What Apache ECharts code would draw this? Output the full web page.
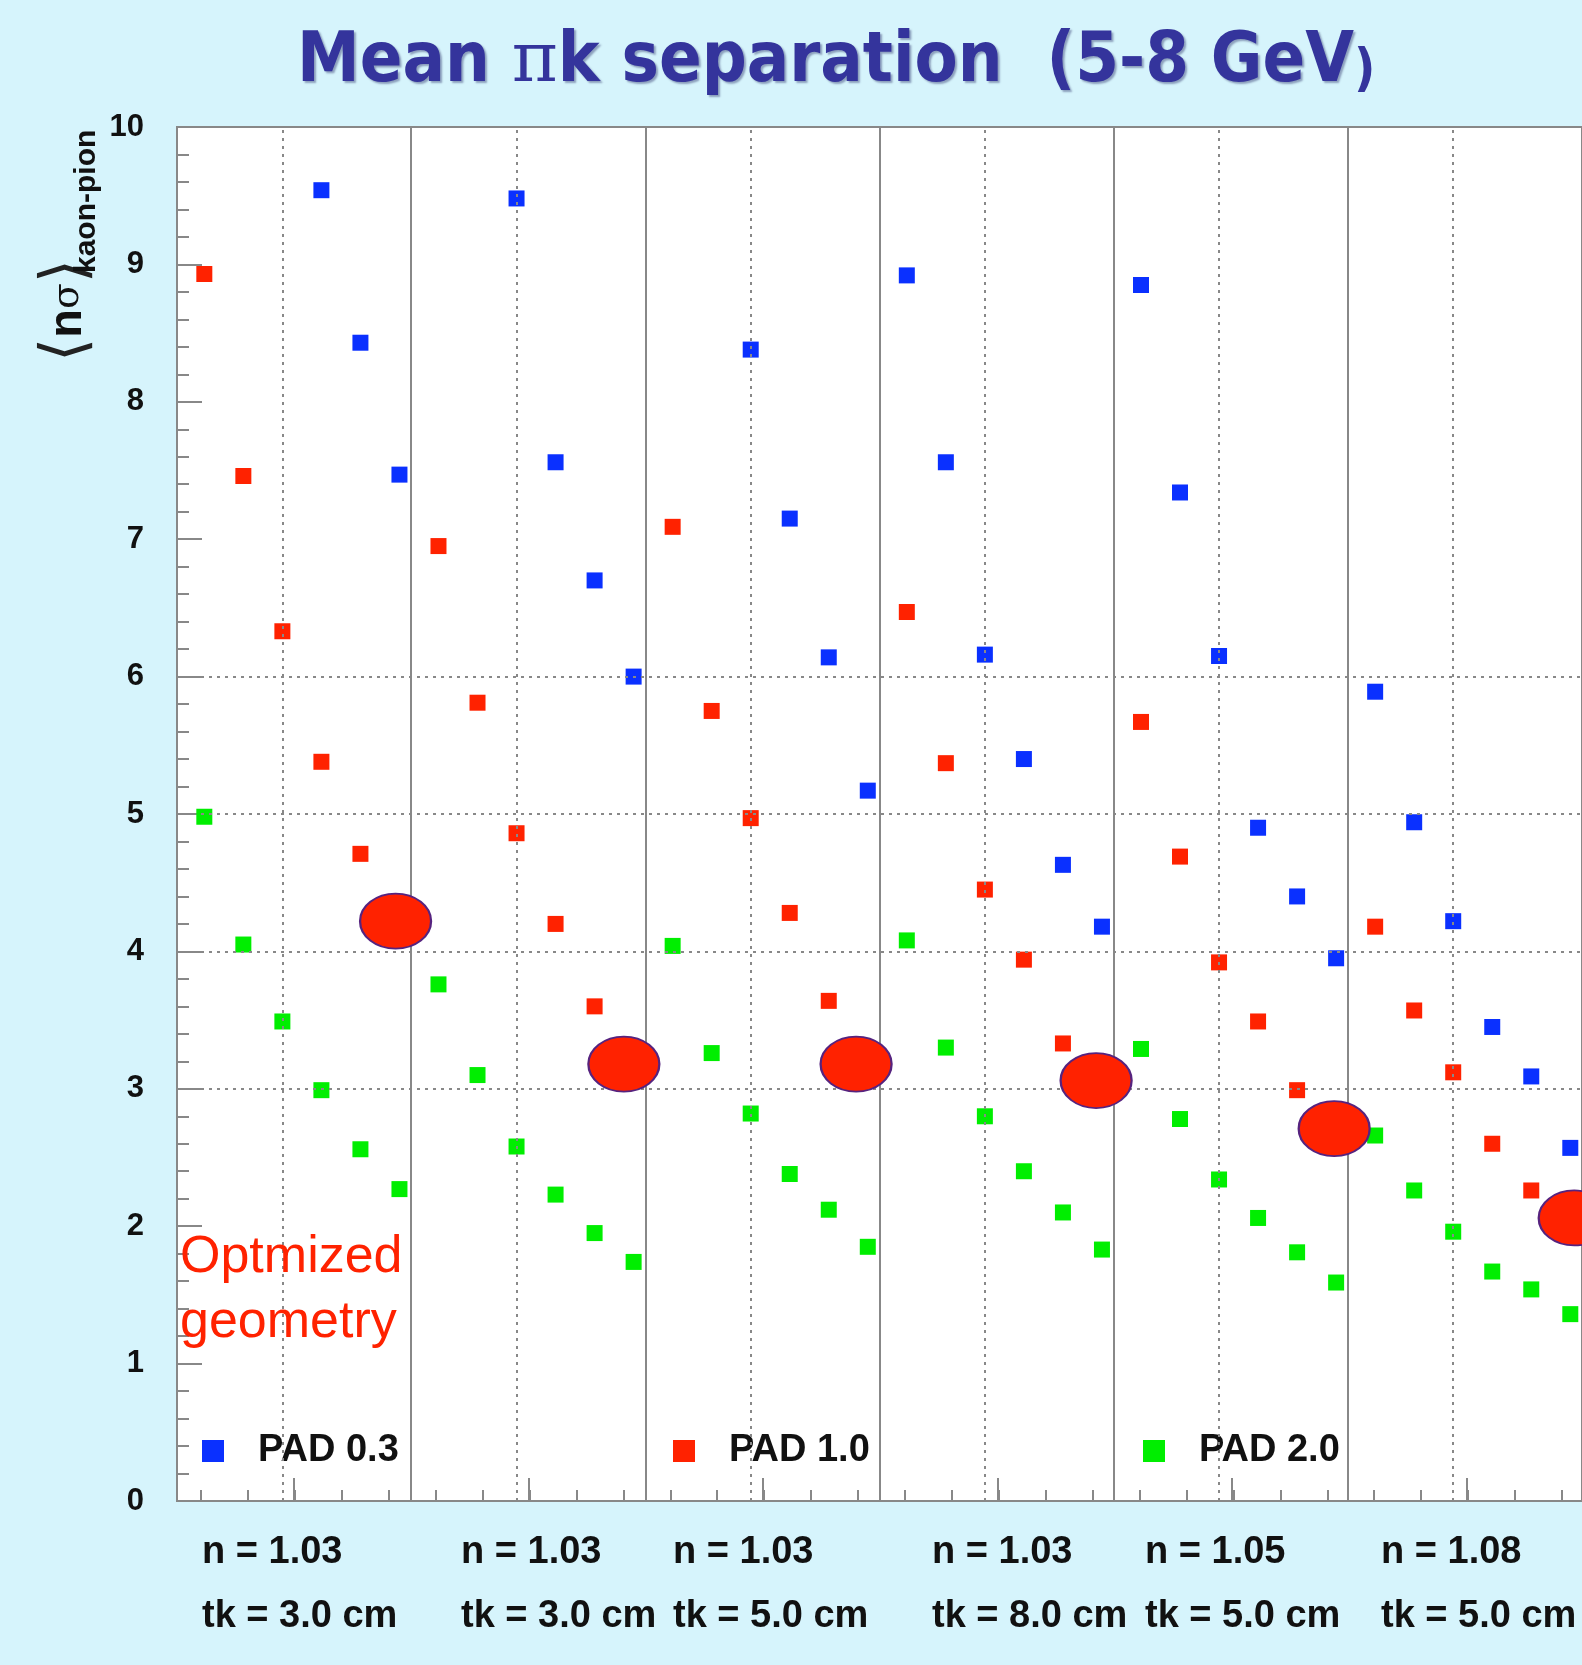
<!DOCTYPE html>
<html><head><meta charset="utf-8">
<script src="https://cdn.jsdelivr.net/npm/echarts@6/dist/echarts.min.js"></script>
<style>html,body{margin:0;padding:0;background:#d6f4fc}#c{width:1582px;height:1665px}</style>
</head><body><div id="c"></div>
<script>
// ---- data ----
const titleText = 'Mean πk separation  (5-8 GeV)';
const seriesNames = ['PAD 0.3', 'PAD 1.0', 'PAD 2.0'];
const groupN = ['n = 1.03', 'n = 1.03', 'n = 1.03', 'n = 1.03', 'n = 1.05', 'n = 1.08'];
const groupTk = ['tk = 3.0 cm', 'tk = 3.0 cm', 'tk = 5.0 cm', 'tk = 8.0 cm', 'tk = 5.0 cm', 'tk = 5.0 cm'];
const pointsPerGroup = 6;
const pad03 = [null, null, null, 9.54, 8.43, 7.47,
               null, null, 9.48, 7.56, 6.70, 6.00,
               null, null, 8.38, 7.15, 6.14, 5.17,
               8.92, 7.56, 6.16, 5.40, 4.63, 4.18,
               8.85, 7.34, 6.15, 4.90, 4.40, 3.95,
               5.89, 4.94, 4.22, 3.45, 3.09, 2.57];
const pad10 = [8.93, 7.46, 6.33, 5.38, 4.71, 4.22,
               6.95, 5.81, 4.86, 4.20, 3.60, 3.18,
               7.09, 5.75, 4.97, 4.28, 3.64, 3.18,
               6.47, 5.37, 4.45, 3.94, 3.33, 3.06,
               5.67, 4.69, 3.92, 3.49, 2.99, 2.71,
               4.18, 3.57, 3.12, 2.60, 2.26, 2.06];
const pad20 = [4.98, 4.05, 3.49, 2.99, 2.56, 2.27,
               3.76, 3.10, 2.58, 2.23, 1.95, 1.74,
               4.04, 3.26, 2.82, 2.38, 2.12, 1.85,
               4.08, 3.30, 2.80, 2.40, 2.10, 1.83,
               3.29, 2.78, 2.34, 2.06, 1.81, 1.59,
               2.66, 2.26, 1.96, 1.67, 1.54, 1.36];
const optX = [4.9, 10.75, 16.7, 22.85, 28.95, 35.1];
const optY = [4.22, 3.18, 3.18, 3.06, 2.71, 2.06];
const optLabel = 'Optmized\ngeometry';
const yAxisName = 'kaon-pion';

// ---- layout / style ----
const FONT = '"Liberation Sans", Arial, sans-serif';
const colors = ['#0a30ff', '#ff2200', '#00ee00'];
const gridBase = {top: 127, bottom: 164, right: -8};
const nGroups = groupN.length;
const hDotted = [3, 4, 5, 6];
const labelLeft = [202, 461, 673, 932, 1145, 1381];
const legendLeft = [202, 673, 1143];

const toPts = arr => arr.map((v, i) => v == null ? null : [i, v]).filter(p => p);

const markData = [];
hDotted.forEach(v => markData.push({yAxis: v, lineStyle: {type: [3, 5], color: '#888', width: 2}}));
for (let g = 0; g < nGroups; g++) {
  markData.push({xAxis: g * pointsPerGroup + 2, lineStyle: {type: [3, 5], color: '#888', width: 2}});
  if (g > 0) markData.push({xAxis: g * pointsPerGroup - 0.7, lineStyle: {type: 'solid', color: '#888', width: 2}});
}

const chart = echarts.init(document.getElementById('c'));
const graphics = [];
groupN.forEach((t, g) => {
  graphics.push({type: 'text', x: labelLeft[g], y: 1553, style: {text: t, font: 'bold 38px ' + FONT, fill: '#111', align: 'left', verticalAlign: 'middle'}});
  graphics.push({type: 'text', x: labelLeft[g], y: 1617, style: {text: groupTk[g], font: 'bold 38px ' + FONT, fill: '#111', align: 'left', verticalAlign: 'middle'}});
});
graphics.push({type: 'text', x: 180, y: 1225, z: 50, style: {text: optLabel, font: '52px ' + FONT, lineHeight: 65, fill: '#ff2200', align: 'left', verticalAlign: 'top'}});
graphics.push({type: 'text', x: 68, y: 362, rotation: Math.PI / 2, style: {
  text: '{br|⟨}{n|n}{s|σ}{br|⟩}', align: 'left', verticalAlign: 'middle',
  rich: {
    br: {fontSize: 62, fontFamily: '"DejaVu Sans"', fontWeight: 'normal', fill: '#222'},
    n: {fontSize: 47, fontFamily: FONT, fontWeight: 'bold', fill: '#111'},
    s: {fontSize: 38, fontFamily: '"DejaVu Serif"', fontWeight: 'normal', fill: '#111'}
  }}});
graphics.push({type: 'text', x: 87, y: 273, rotation: Math.PI / 2, style: {text: yAxisName, font: 'bold 30px ' + FONT, fill: '#111', align: 'left', verticalAlign: 'middle'}});

const tickAxis = (gi, max, len) => ({type: 'value', gridIndex: gi, min: 0, max: max, interval: 1,
  axisLine: {show: false, onZero: false}, axisLabel: {show: false}, splitLine: {show: false},
  axisTick: {show: true, inside: true, length: len, lineStyle: {color: '#888', width: 2}}});

chart.setOption({
  backgroundColor: '#d6f4fc',
  animation: false,
  title: {
    text: '{a|Mean }{p|π}{a|k separation  (5-8 GeV}{c|)}',
    left: 297, top: 28, padding: 0,
    textStyle: {
      rich: {
        a: {fontSize: 70, fontWeight: 'bold', fontFamily: '"DejaVu Sans Condensed", "DejaVu Sans", sans-serif', color: '#34349c',
            textShadowColor: 'rgba(0,0,70,0.35)', textShadowBlur: 2, textShadowOffsetX: 2, textShadowOffsetY: 2},
        p: {fontSize: 70, fontWeight: 'normal', fontFamily: '"DejaVu Serif", serif', color: '#34349c'},
        c: {fontSize: 52, fontWeight: 'bold', fontFamily: '"DejaVu Sans Condensed", "DejaVu Sans", sans-serif', color: '#34349c', padding: [16, 0, 0, 0]}
      }
    }
  },
  legend: seriesNames.map((n, k) => ({
    data: [n], left: legendLeft[k], top: 1431, padding: 0, selectedMode: false,
    icon: 'rect', itemWidth: 22, itemHeight: 22,
    textStyle: {fontSize: 38, fontWeight: 'bold', fontFamily: FONT, color: '#111', padding: [0, 0, 0, 29], lineHeight: 40}
  })),
  grid: [
    Object.assign({left: 177, show: true, backgroundColor: '#fff', borderColor: '#888', borderWidth: 2}, gridBase),
    Object.assign({left: 201}, gridBase),
    Object.assign({left: 294}, gridBase)
  ],
  xAxis: [
    {type: 'value', gridIndex: 0, min: -0.7, max: nGroups * pointsPerGroup - 0.7,
     axisLine: {show: true, onZero: false, lineStyle: {color: '#888', width: 2}}, axisTick: {show: false},
     axisLabel: {show: false}, splitLine: {show: false}},
    tickAxis(1, (1590 - 201) / 47.2, 11),
    tickAxis(2, (1590 - 294) / 236, 23)
  ],
  yAxis: [
    {type: 'value', gridIndex: 0, min: 0, max: 10, interval: 1,
     axisLine: {show: true, onZero: false, lineStyle: {color: '#888', width: 2}},
     axisTick: {show: true, inside: true, length: 25, lineStyle: {color: '#888', width: 2}},
     minorTick: {show: true, splitNumber: 5, length: 12, lineStyle: {color: '#888', width: 2}},
     axisLabel: {fontSize: 31, fontWeight: 'bold', fontFamily: FONT, color: '#111', margin: 33},
     splitLine: {show: false}},
    {type: 'value', gridIndex: 1, show: false, min: 0, max: 1, axisLine: {onZero: false}},
    {type: 'value', gridIndex: 2, show: false, min: 0, max: 1, axisLine: {onZero: false}}
  ],
  graphic: graphics,
  series: [
    {type: 'line', data: [], silent: true,
     markLine: {silent: true, symbol: 'none', label: {show: false}, data: markData}},
    {name: seriesNames[0], type: 'scatter', symbol: 'rect', symbolSize: 16, itemStyle: {color: colors[0], opacity: 1}, data: toPts(pad03)},
    {name: seriesNames[1], type: 'scatter', symbol: 'rect', symbolSize: 16, itemStyle: {color: colors[1], opacity: 1}, data: toPts(pad10)},
    {name: seriesNames[2], type: 'scatter', symbol: 'rect', symbolSize: 16, itemStyle: {color: colors[2], opacity: 1}, data: toPts(pad20)},
    {name: 'Optimized', type: 'scatter', symbol: 'circle', symbolSize: [71, 55], z: 5,
     itemStyle: {color: '#ff2200', borderColor: '#56237f', borderWidth: 2, opacity: 1},
     data: optX.map((x, i) => [x, optY[i]])}
  ]
});
</script></body></html>
